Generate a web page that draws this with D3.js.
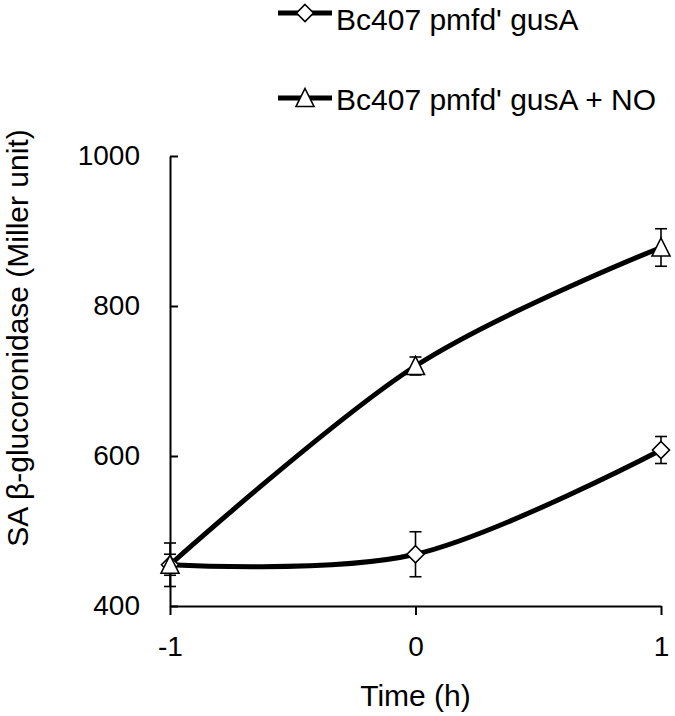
<!DOCTYPE html>
<html>
<head>
<meta charset="utf-8">
<script src="https://cdn.jsdelivr.net/npm/d3@7"></script>
<style>
  body { margin: 0; background: #fff; }
  svg { display: block; font-family: "Liberation Sans", Arial, sans-serif; }
</style>
</head>
<body>
<div id="chart"></div>
<script>
// time points (h)
const times = [-1, 0, 1];
// SA beta-glucuronidase, Miller units
const plainValues = [455, 469, 608];
const plainErrors = [29, 30, 18];
const noValues = [455, 720, 878];
const noErrors = [14, 12, 25];
const yTicks = [400, 600, 800, 1000];
const xTicks = [-1, 0, 1];

const seriesNames = ["Bc407 pmfd' gusA", "Bc407 pmfd' gusA + NO"];

const width = 675, height = 716;

const svg = d3.select("#chart")
    .append("svg")
    .attr("width", width)
    .attr("height", height);

const x = d3.scaleLinear().domain([-1, 1]).range([170, 661]);
const y = d3.scaleLinear().domain([400, 1000]).range([606, 156]);

// y axis, ticks pointing inward
const yAxis = svg.append("g")
    .attr("transform", `translate(${x(-1)},0)`)
    .call(d3.axisLeft(y).tickValues(yTicks).tickSizeInner(-8).tickSizeOuter(0).tickPadding(30)
        .tickFormat(d3.format("d")));

// x axis, ticks pointing down
const xAxis = svg.append("g")
    .attr("transform", `translate(0,${y(400)})`)
    .call(d3.axisBottom(x).tickValues(xTicks).tickSizeInner(9).tickSizeOuter(0).tickPadding(21)
        .tickFormat(d3.format("d")));

[yAxis, xAxis].forEach(ax => {
    ax.select(".domain").attr("stroke", "#000").attr("stroke-width", 2);
    ax.selectAll(".tick line").attr("stroke", "#000").attr("stroke-width", 2);
    ax.selectAll(".tick text")
        .attr("fill", "#000")
        .style("font-size", "28px")
        .style("font-family", "Liberation Sans, Arial, sans-serif");
});
xAxis.selectAll(".tick text").text(d => d < 0 ? "-" + Math.abs(d) : d);

// axis titles
svg.append("text")
    .attr("x", x(0))
    .attr("y", 706)
    .attr("text-anchor", "middle")
    .style("font-size", "30px")
    .text("Time (h)");

svg.append("text")
    .attr("transform", `translate(28,338) rotate(-90)`)
    .attr("text-anchor", "middle")
    .style("font-size", "30px")
    .text("SA \u03b2-glucoronidase (Miller unit)");

const series = [
    { name: seriesNames[0], values: plainValues, errors: plainErrors, shape: "diamond" },
    { name: seriesNames[1], values: noValues, errors: noErrors, shape: "triangle" }
];

const line = d3.line()
    .x(d => x(d.t))
    .y(d => y(d.v))
    .curve(d3.curveCardinal.tension(0));

function markerPath(shape) {
    if (shape === "diamond") return "M0,-8.5L8.5,0L0,8.5L-8.5,0Z";
    return "M0,-9.5L9,8.5L-9,8.5Z";
}

series.forEach(s => {
    const pts = times.map((t, i) => ({ t, v: s.values[i], e: s.errors[i] }));

    svg.append("path")
        .datum(pts)
        .attr("d", line)
        .attr("fill", "none")
        .attr("stroke", "#000")
        .attr("stroke-width", 5);
    s.pts = pts;
});

series.forEach(s => {
    const eb = svg.append("g").selectAll("g")
        .data(s.pts)
        .join("g")
        .attr("stroke", "#000")
        .attr("stroke-width", 1.6);
    eb.append("line")
        .attr("x1", d => x(d.t)).attr("x2", d => x(d.t))
        .attr("y1", d => y(d.v + d.e)).attr("y2", d => y(d.v - d.e));
    eb.append("line")
        .attr("x1", d => x(d.t) - 6).attr("x2", d => x(d.t) + 6)
        .attr("y1", d => y(d.v + d.e)).attr("y2", d => y(d.v + d.e));
    eb.append("line")
        .attr("x1", d => x(d.t) - 6).attr("x2", d => x(d.t) + 6)
        .attr("y1", d => y(d.v - d.e)).attr("y2", d => y(d.v - d.e));
});

series.forEach(s => {
    svg.append("g").selectAll("path")
        .data(s.pts)
        .join("path")
        .attr("transform", d => `translate(${x(d.t)},${y(d.v)})`)
        .attr("d", markerPath(s.shape))
        .attr("fill", "#fff")
        .attr("stroke", "#000")
        .attr("stroke-width", 1.6);
});

// legend
const legendRows = [13, 98];
const legend = svg.append("g").selectAll("g")
    .data(series)
    .join("g")
    .attr("transform", (d, i) => `translate(0,${legendRows[i]})`);

legend.append("line")
    .attr("x1", 278).attr("x2", 332)
    .attr("stroke", "#000")
    .attr("stroke-width", 5);
legend.append("path")
    .attr("transform", "translate(305,0)")
    .attr("d", d => markerPath(d.shape))
    .attr("fill", "#fff")
    .attr("stroke", "#000")
    .attr("stroke-width", 1.6);
legend.append("text")
    .attr("x", 336)
    .attr("y", (d, i) => i === 0 ? 17 : 12)
    .style("font-size", "30px")
    .text(d => d.name);
</script>
</body>
</html>
